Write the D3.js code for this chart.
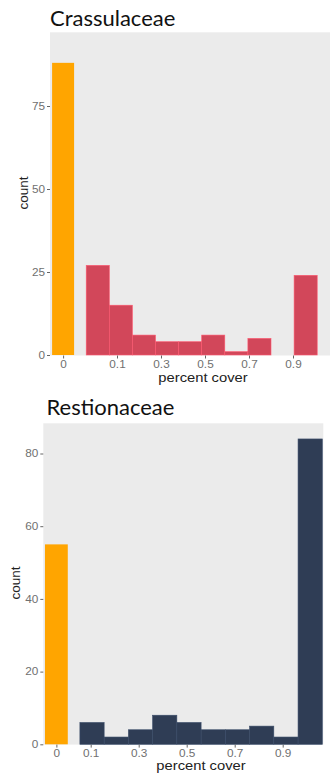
<!DOCTYPE html>
<html>
<head>
<meta charset="utf-8">
<script src="https://cdn.jsdelivr.net/npm/d3@7/dist/d3.min.js"></script>
<style>
  html, body { margin: 0; padding: 0; background: #fff; }
  svg { display: block; }
</style>
</head>
<body>
<svg id="chart" width="330" height="778"></svg>
<script>
// Crassulaceae: plots with zero cover, and histogram of non-zero cover
const crassZeroCount = 88;
const crassBinX0 = [-0.04, 0.065, 0.17, 0.275, 0.38, 0.485, 0.59, 0.695, 0.8, 0.905];
const crassBinWidth = 0.105;
const crassCounts = [27, 15, 6, 4, 4, 6, 1, 5, 0, 24];
const crassYTicks = [0, 25, 50, 75];

// Restionaceae
const restioZeroCount = 55;
const restioBinX0 = [0.055, 0.156, 0.257, 0.358, 0.459, 0.56, 0.661, 0.762, 0.863, 0.964];
const restioBinWidth = 0.101;
const restioCounts = [6, 2, 4, 8, 6, 4, 4, 5, 2, 84];
const restioYTicks = [0, 20, 40, 60, 80];

const xTickValues = [0.1, 0.3, 0.5, 0.7, 0.9];

// text in the panels is drawn slightly wide
const WIDE = 1.18;

const panels = [
  {
    title: "Crassulaceae", titleX: 50, titleY: 26,
    left: 50, right: 330, top: 32.3, bottom: 355.5,
    xRange: [95, 315], yTop: [75, 106], yZero: 355,
    zeroAt: -0.145, zeroWidth: 0.1,
    zeroCount: crassZeroCount, binX0: crassBinX0, binWidth: crassBinWidth, counts: crassCounts,
    yTicks: crassYTicks, color: "#D2475A",
    xLabelX: 203, xLabelY: 381.5, countX: 23, countY: 193
  },
  {
    title: "Restionaceae", titleX: 46.5, titleY: 415,
    left: 43.3, right: 323.3, top: 423.3, bottom: 744.6,
    xRange: [66.7, 306.7], yTop: [80, 453.5], yZero: 744.3,
    zeroAt: -0.043, zeroWidth: 0.095,
    zeroCount: restioZeroCount, binX0: restioBinX0, binWidth: restioBinWidth, counts: restioCounts,
    yTicks: restioYTicks, color: "#2F3D55",
    xLabelX: 201, xLabelY: 770, countX: 15, countY: 583
  }
];

const svg = d3.select("#chart");

panels.forEach(p => {
  const g = svg.append("g");

  const x = d3.scaleLinear().domain([0, 1]).range(p.xRange);
  const y = d3.scaleLinear().domain([0, p.yTop[0]]).range([p.yZero, p.yTop[1]]);

  // title
  g.append("text")
    .attr("x", p.titleX).attr("y", p.titleY)
    .attr("font-family", "Lato, 'Open Sans', sans-serif")
    .attr("font-size", 22)
    .attr("fill", "#111")
    .text(p.title);

  // panel background
  g.append("rect")
    .attr("x", p.left).attr("y", p.top)
    .attr("width", p.right - p.left).attr("height", p.bottom - p.top)
    .attr("fill", "#EBEBEB");

  // zero-cover bar
  g.append("rect")
    .attr("x", x(p.zeroAt - p.zeroWidth / 2))
    .attr("width", x(p.zeroAt + p.zeroWidth / 2) - x(p.zeroAt - p.zeroWidth / 2))
    .attr("y", y(p.zeroCount))
    .attr("height", y(0) - y(p.zeroCount))
    .attr("fill", "#FFA500");

  // histogram bars
  const bins = p.binX0.map((x0, i) => ({ x0, x1: x0 + p.binWidth, n: p.counts[i] }));
  g.selectAll("rect.bin").data(bins.filter(d => d.n > 0)).join("rect")
    .attr("class", "bin")
    .attr("x", d => x(d.x0))
    .attr("width", d => x(d.x1) - x(d.x0))
    .attr("y", d => y(d.n))
    .attr("height", d => y(0) - y(d.n))
    .attr("fill", p.color)
    .attr("stroke", d3.color(p.color).brighter(0.6))
    .attr("stroke-width", 0.6);

  // x axis
  const xAxis = d3.axisBottom(x)
    .tickValues([p.zeroAt].concat(xTickValues))
    .tickFormat(v => v === p.zeroAt ? "0" : d3.format(".1f")(v))
    .tickSize(3).tickPadding(2);
  const gx = g.append("g")
    .attr("transform", `translate(0,${p.bottom})`)
    .call(xAxis);
  gx.select(".domain").remove();
  gx.selectAll(".tick line").attr("stroke", "#666");
  gx.selectAll(".tick text")
    .attr("font-family", "'Liberation Sans', Arial, sans-serif")
    .attr("font-size", 10).attr("fill", "#707070")
    .attr("transform", `scale(${WIDE},1)`);

  // y axis
  const yAxis = d3.axisLeft(y).tickValues(p.yTicks).tickSize(3).tickPadding(2);
  const gy = g.append("g")
    .attr("transform", `translate(${p.left},0)`)
    .call(yAxis);
  gy.select(".domain").remove();
  gy.selectAll(".tick line").attr("stroke", "#666");
  gy.selectAll(".tick text")
    .attr("font-family", "'Liberation Sans', Arial, sans-serif")
    .attr("font-size", 10).attr("fill", "#707070")
    .attr("x", -5 / WIDE)
    .attr("transform", `scale(${WIDE},1)`);

  // axis titles
  g.append("text")
    .attr("transform", `translate(${p.xLabelX},${p.xLabelY}) scale(${WIDE},1)`)
    .attr("text-anchor", "middle")
    .attr("font-family", "'Liberation Sans', Arial, sans-serif")
    .attr("font-size", 12.5).attr("fill", "#222")
    .text("percent cover");

  g.append("text")
    .attr("transform", `translate(${p.countX},${p.countY}) rotate(-90)`)
    .attr("text-anchor", "middle")
    .attr("dy", "0.35em")
    .attr("font-family", "'Liberation Sans', Arial, sans-serif")
    .attr("font-size", 13.5).attr("fill", "#222")
    .text("count");
});
</script>
</body>
</html>
